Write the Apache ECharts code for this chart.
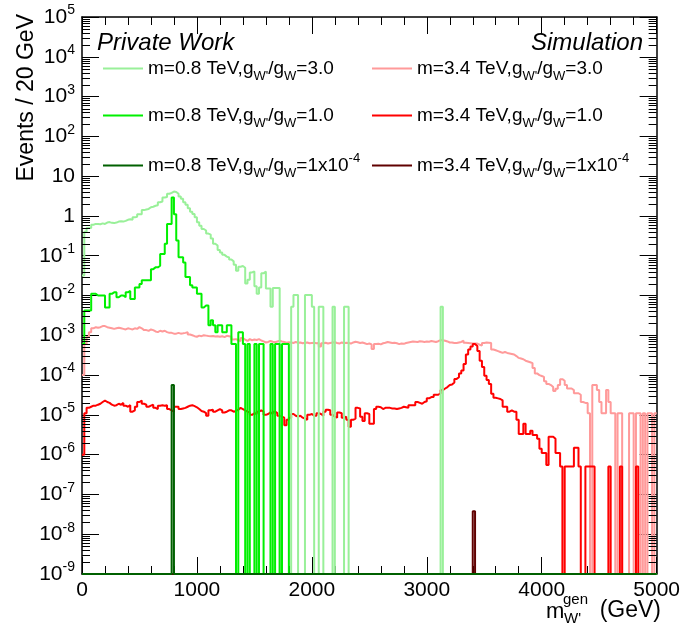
<!DOCTYPE html>
<html><head><meta charset="utf-8">
<script src="https://cdn.jsdelivr.net/npm/echarts@6/dist/echarts.min.js"></script>
<style>html,body{margin:0;padding:0;background:#fff}#c{width:683px;height:625px}</style>
</head><body><div id="c"></div>
<script>
// ---------------- data ----------------
const BIN_WIDTH = 20;          // GeV per bin
const X_MIN = 0, X_MAX = 5000;
const Y_MIN = 1e-9, Y_MAX = 1e5;
const xTickLabels = ['0', '1000', '2000', '3000', '4000', '5000'];

const seriesNames = [
  "m=0.8 TeV,gW'/gW=3.0",
  "m=0.8 TeV,gW'/gW=1.0",
  "m=0.8 TeV,gW'/gW=1x10-4",
  "m=3.4 TeV,gW'/gW=3.0",
  "m=3.4 TeV,gW'/gW=1.0",
  "m=3.4 TeV,gW'/gW=1x10-4"
];
const legendRich = [
  "m=0.8 TeV,g{sub|W'}/g{sub|W}=3.0",
  "m=0.8 TeV,g{sub|W'}/g{sub|W}=1.0",
  "m=0.8 TeV,g{sub|W'}/g{sub|W}=1x10{sup|-4}",
  "m=3.4 TeV,g{sub|W'}/g{sub|W}=3.0",
  "m=3.4 TeV,g{sub|W'}/g{sub|W}=1.0",
  "m=3.4 TeV,g{sub|W'}/g{sub|W}=1x10{sup|-4}"
];

// m=0.8 TeV, g=3.0 (light green), 250 bins of 20 GeV
const lightGreen = [
  0.032,0.4,0.5,0.5,0.6,0.63,0.63,0.62,0.65,0.63,
  0.68,0.7,0.67,0.66,0.68,0.72,0.73,0.72,0.75,0.8,
  0.82,0.8,0.92,0.95,1.1,1.1,1.4,1.45,1.5,1.65,
  1.7,1.8,1.85,2.2,2.3,2.9,3.0,3.6,3.8,4.1,
  4.0,3.6,3.1,2.7,2.2,1.9,1.56,1.28,1.12,0.93,
  0.69,0.57,0.47,0.43,0.36,0.34,0.27,0.2,0.18,0.14,
  0.12,0.105,0.095,0.09,0.08,0.072,0.059,0.042,0.053,0.055,
  0.05,0.02,0.025,0.038,0.04,0.017,0.011,0.016,0.036,0.04,
  0.015,0.015,0.0052,0.0155,0.0155,0.0155,0,0,0,0,
  0,0.0052,0.0103,0.0103,0,0,0,0.0103,0.0103,0.0103,
  0.0052,0,0,0.0052,0.0052,0,0,0,0,0.0052,
  0,0,0,0,0.0052,0.0052,0,0,0,0,
  0,0,0,0,0,0,0,0,0,0,
  0,0,0,0,0,0,0,0,0,0,
  0,0,0,0,0,0,0,0,0,0,
  0,0,0,0,0,0,0.0052,0,0,0,
  0,0,0,0,0,0,0,0,0,0,
  0,0,0,0,0,0,0,0,0,0,
  0,0,0,0,0,0,0,0,0,0,
  0,0,0,0,0,0,0,0,0,0,
  0,0,0,0,0,0,0,0,0,0,
  0,0,0,0,0,0,0,0,0,0,
  0,0,0,0,0,0,0,0,0,0,
  0,0,0,0,0,0,0,0,0,0,
  0,0,0,0,0,0,0,0,0,0
];

// m=0.8 TeV, g=1.0 (green)
const green = [
  6e-4,0.0042,0.0042,0.0042,0.011,0.011,0.01,0.01,0.01,0.01,
  0.005,0.005,0.011,0.012,0.012,0.009,0.01,0.01,0.009,0.012,
  0.013,0.0082,0.0082,0.016,0.016,0.0195,0.024,0.024,0.024,0.024,
  0.046,0.051,0.051,0.056,0.11,0.11,0.2,0.63,0.63,2.9,
  1.1,0.24,0.092,0.092,0.068,0.029,0.029,0.018,0.016,0.016,
  0.011,0.011,0.005,0.0056,0.0056,0.0018,0.0024,0.0018,0.0012,0.0018,
  0.0018,0.0012,0.0012,0.0018,0.0018,0.0006,0.0006,0,0.0012,0.0012,
  0.0006,0,0.0006,0,0,0.0006,0,0.0006,0.0006,0,
  0,0,0.0006,0,0.0006,0.0006,0,0.0006,0.0006,0.0006,
  0,0,0,0,0,0,0,0,0,0,
  0,0,0,0,0,0,0,0,0,0,
  0,0,0,0,0,0,0,0,0,0,
  0,0,0,0,0,0,0,0,0,0,
  0,0,0,0,0,0,0,0,0,0,
  0,0,0,0,0,0,0,0,0,0,
  0,0,0,0,0,0,0,0,0,0,
  0,0,0,0,0,0,0,0,0,0,
  0,0,0,0,0,0,0,0,0,0,
  0,0,0,0,0,0,0,0,0,0,
  0,0,0,0,0,0,0,0,0,0,
  0,0,0,0,0,0,0,0,0,0,
  0,0,0,0,0,0,0,0,0,0,
  0,0,0,0,0,0,0,0,0,0,
  0,0,0,0,0,0,0,0,0,0,
  0,0,0,0,0,0,0,0,0,0
];

// m=0.8 TeV, g=1e-4 (dark green): one filled bin (780-800 GeV)
const darkGreenBins = [39];
const darkGreenVals = [5.6e-5];

// m=3.4 TeV, g=3.0 (pink)
const pink = [
  1e-4,6e-4,9e-4,1.2e-3,1.5e-3,1.6e-3,1.55e-3,1.6e-3,1.7e-3,1.7e-3,
  1.6e-3,1.55e-3,1.5e-3,1.45e-3,1.5e-3,1.55e-3,1.5e-3,1.45e-3,1.4e-3,1.5e-3,
  1.45e-3,1.4e-3,1.5e-3,1.45e-3,1.6e-3,1.5e-3,1.35e-3,1.35e-3,1.3e-3,1.4e-3,
  1.35e-3,1.25e-3,1.2e-3,1.3e-3,1.25e-3,1.3e-3,1.2e-3,1.15e-3,1.15e-3,1.1e-3,
  1.1e-3,1.15e-3,1.1e-3,1.12e-3,1.15e-3,1.2e-3,1.05e-3,1.0e-3,0.95e-3,0.92e-3,
  0.98e-3,0.95e-3,1.0e-3,0.98e-3,0.96e-3,0.95e-3,0.96e-3,0.93e-3,0.95e-3,0.92e-3,
  0.95e-3,0.9e-3,0.97e-3,0.95e-3,0.92e-3,0.78e-3,0.8e-3,0.75e-3,0.72e-3,0.85e-3,
  0.78e-3,0.72e-3,0.8e-3,0.75e-3,0.78e-3,0.76e-3,0.8e-3,0.74e-3,7e-4,6.6e-4,
  6.8e-4,7.2e-4,6.9e-4,6.7e-4,7e-4,7.3e-4,7e-4,6.8e-4,6.5e-4,6.7e-4,
  6.6e-4,6.4e-4,6.8e-4,6.5e-4,6.6e-4,6.3e-4,6.5e-4,6.6e-4,6.3e-4,6.4e-4,
  6.5e-4,6.3e-4,6.4e-4,5.2e-4,6.3e-4,6.5e-4,6.2e-4,6.4e-4,6.6e-4,6.7e-4,
  6.4e-4,6.2e-4,6.6e-4,6.3e-4,6.5e-4,6.4e-4,6.2e-4,6.6e-4,6.9e-4,6.7e-4,
  6.4e-4,6.6e-4,6.3e-4,6.0e-4,6.2e-4,5.9e-4,4.5e-4,6.0e-4,6.1e-4,5.9e-4,
  6.3e-4,6.5e-4,6.8e-4,6.6e-4,6.4e-4,6.5e-4,6.3e-4,6.0e-4,6.2e-4,6.1e-4,
  6.4e-4,6.6e-4,6.8e-4,7.0e-4,6.9e-4,6.8e-4,7.1e-4,7.0e-4,6.8e-4,7.0e-4,
  6.9e-4,7.2e-4,7.0e-4,6.8e-4,7.1e-4,7.6e-4,7.5e-4,7.3e-4,7.0e-4,6.6e-4,
  6.6e-4,6.4e-4,6.4e-4,6.6e-4,6.8e-4,7.3e-4,6.5e-4,6.4e-4,6.3e-4,6.2e-4,
  6.2e-4,6.2e-4,5.8e-4,5.5e-4,6.4e-4,6.6e-4,6.5e-4,6.4e-4,4.4e-4,4.2e-4,
  4.0e-4,3.8e-4,3.6e-4,3.8e-4,3.6e-4,3.5e-4,3.4e-4,3.3e-4,3.0e-4,2.7e-4,
  2.6e-4,2.5e-4,2.3e-4,2.2e-4,2.1e-4,2.0e-4,1.5e-4,1.1e-4,1.0e-4,9.5e-5,
  9.0e-5,7.0e-5,6.0e-5,5.6e-5,5.0e-5,4.0e-5,4.5e-5,5.6e-5,7.9e-5,7.2e-5,
  5.6e-5,4.6e-5,4.6e-5,4.2e-5,3.5e-5,3.5e-5,3.2e-5,2.1e-5,2.0e-5,2.0e-5,
  1.1e-5,0,5.6e-5,5.6e-5,4.2e-5,2.1e-5,1.1e-5,1.1e-5,4.2e-5,2.1e-5,
  1.1e-5,1.1e-5,0,1.1e-5,1.1e-5,0,0,0,1.1e-5,1.1e-5,
  0,1.1e-5,1.1e-5,0,1.1e-5,0,1.1e-5,1.1e-5,0,1.1e-5
];

// m=3.4 TeV, g=1.0 (red)
const red = [
  1e-6,1.1e-5,1.5e-5,1.6e-5,1.7e-5,1.7e-5,1.8e-5,1.9e-5,2.1e-5,2.3e-5,
  2.1e-5,2.0e-5,1.8e-5,1.7e-5,1.75e-5,1.9e-5,1.8e-5,2.0e-5,1.7e-5,1.6e-5,
  1.75e-5,1.2e-5,1.3e-5,1.6e-5,2.1e-5,2.3e-5,1.9e-5,1.8e-5,1.6e-5,1.7e-5,
  1.8e-5,1.5e-5,1.4e-5,1.7e-5,1.75e-5,1.7e-5,1.75e-5,1.4e-5,1.3e-5,1.2e-5,
  1.6e-5,1.6e-5,1.4e-5,1.45e-5,1.5e-5,1.6e-5,1.7e-5,1.75e-5,1.65e-5,1.55e-5,
  1.4e-5,1.25e-5,1.2e-5,1.1e-5,9.5e-6,1.3e-5,1.35e-5,1.2e-5,1.3e-5,1.4e-5,
  1.3e-5,1.15e-5,1.2e-5,1.3e-5,1.3e-5,1.2e-5,1.25e-5,1.35e-5,1.5e-5,1.4e-5,
  1.3e-5,1.2e-5,1.15e-5,1.0e-5,1.1e-5,1.05e-5,1.2e-5,1.3e-5,1.2e-5,1.0e-5,
  1.05e-5,1.15e-5,1.05e-5,1.2e-5,1.1e-5,9.5e-6,9e-6,8.5e-6,5.5e-6,7.5e-6,
  8.5e-6,1.05e-5,9.5e-6,9e-6,9.5e-6,8.5e-6,8e-6,7.5e-6,1.0e-5,1.05e-5,
  9.5e-6,9.5e-6,1.1e-5,1.05e-5,9.5e-6,1.2e-5,1.35e-5,1.3e-5,1.0e-5,9e-6,
  8.5e-6,1.15e-5,1.1e-5,8.5e-6,9e-6,7.5e-6,5e-6,7.5e-6,8e-6,1.5e-5,
  1.45e-5,9e-6,7e-6,1.1e-5,1.05e-5,6e-6,6e-6,1.4e-5,1.6e-5,1.55e-5,
  1.4e-5,1.5e-5,1.5e-5,1.5e-5,1.45e-5,1.45e-5,1.4e-5,1.45e-5,1.5e-5,1.6e-5,
  1.55e-5,1.5e-5,1.75e-5,1.75e-5,1.75e-5,2.1e-5,2.0e-5,1.9e-5,2.1e-5,2.2e-5,
  2.6e-5,2.8e-5,2.8e-5,3.2e-5,3.2e-5,3.5e-5,4.2e-5,4.6e-5,5.0e-5,5.6e-5,
  5.8e-5,6.5e-5,8.0e-5,8.8e-5,1.1e-4,1.3e-4,1.9e-4,3.3e-4,4.4e-4,5.2e-4,
  6.0e-4,5.4e-4,4.0e-4,2.3e-4,1.6e-4,9.6e-5,7.5e-5,6.0e-5,3.4e-5,2.7e-5,
  2.6e-5,2.5e-5,2.3e-5,1.6e-5,1.6e-5,1.2e-5,1.3e-5,1.2e-5,1.2e-5,7.5e-6,
  3.3e-6,3.3e-6,6e-6,3.3e-6,3.3e-6,4e-6,3.1e-6,3.1e-6,2.5e-6,1.4e-6,
  1.1e-6,1.1e-6,5.5e-7,2.8e-6,2.8e-6,2.5e-6,1.1e-6,1.1e-6,5e-7,0,
  5e-7,5e-7,5e-7,5e-7,1.5e-6,1.5e-6,5e-7,0,0,5e-7,
  5e-7,5e-7,5e-7,0,0,0,0,0,0,5e-7,
  0,0,0,0,5e-7,0,0,0,0,0,
  0,5e-7,0,0,0,0,0,0,0,0
];

// m=3.4 TeV, g=1e-4 (dark red): one filled bin (3400-3420 GeV)
const darkRedBins = [170];
const darkRedVals = [3.8e-8];

// ---------------- helpers ----------------
const N_BINS = (X_MAX - X_MIN) / BIN_WIDTH;
function sparseToBins(bins, vals) {
  const out = new Array(N_BINS).fill(0);
  bins.forEach((b, k) => { out[b] = vals[k]; });
  return out;
}
const darkGreen = sparseToBins(darkGreenBins, darkGreenVals);
const darkRed = sparseToBins(darkRedBins, darkRedVals);

// empty bins are drawn on the lower frame edge, as ROOT does on a log axis
function toStep(vals) {
  const d = vals.map((v, i) => [X_MIN + i * BIN_WIDTH, v > 0 ? v : Y_MIN]);
  const last = vals[vals.length - 1];
  d.push([X_MAX, last > 0 ? last : Y_MIN]);
  return d;
}

const FONT = "'Liberation Sans', Arial, Helvetica, sans-serif";
const COLORS = ['#99f099', '#00f000', '#006000', '#ff9a9a', '#ff0000', '#600000'];
const VALUES = [lightGreen, green, darkGreen, pink, red, darkRed];
const DRAW_ORDER = [3, 4, 5, 0, 1, 2];

const minorTickVals = [];
for (let e = -9; e < 5; e++) for (let k = 2; k <= 9; k++) minorTickVals.push([X_MIN, k * Math.pow(10, e)]);

const chart = echarts.init(document.getElementById('c'), null, { renderer: 'canvas' });

const lineSeries = DRAW_ORDER.map(i => ({
  name: seriesNames[i],
  type: 'line',
  step: 'end',
  data: toStep(VALUES[i]),
  symbol: 'none',
  showSymbol: false,
  animation: false,
  lineStyle: { color: COLORS[i], width: 2 },
  itemStyle: { color: COLORS[i] },
  emphasis: { disabled: true },
  z: 3
}));

const MINOR_LEN = 8;
const minorSeries = {
  type: 'custom',
  silent: true,
  animation: false,
  z: 10,
  data: minorTickVals,
  encode: { x: 0, y: 1 },
  renderItem: (params, api) => {
    const v = api.value(1);
    const pL = api.coord([X_MIN, v]);
    const pR = api.coord([X_MAX, v]);
    const y = Math.round(pL[1]) + 0.5;
    return {
      type: 'group',
      children: [
        { type: 'line', shape: { x1: pL[0], y1: y, x2: pL[0] + MINOR_LEN, y2: y }, style: { stroke: '#000', lineWidth: 1 } },
        { type: 'line', shape: { x1: pR[0], y1: y, x2: pR[0] - MINOR_LEN, y2: y }, style: { stroke: '#000', lineWidth: 1 } }
      ]
    };
  }
};

const legendCols = [103, 372];
const legendRows = [59, 106, 152];
const legends = seriesNames.map((nm, i) => ({
  data: [nm],
  left: legendCols[Math.floor(i / 3)],
  top: legendRows[i % 3],
  padding: 0,
  icon: 'rect',
  itemWidth: 40,
  itemHeight: 2,
  selectedMode: false,
  formatter: () => legendRich[i],
  textStyle: {
    fontFamily: FONT, fontSize: 19, color: '#000',
    rich: {
      sub: { fontFamily: FONT, fontSize: 13, color: '#000', padding: [16, 0, 0, 0] },
      sup: { fontFamily: FONT, fontSize: 13, color: '#000', padding: [0, 0, 14, 0] }
    }
  }
}));

function yLabel(v) {
  const e = Math.round(Math.log10(v));
  if (e === 0) return '1';
  if (e === 1) return '10';
  return '10{sup|' + e + '}';
}

const axisBlack = { color: '#000', width: 1.5 };

chart.setOption({
  animation: false,
  backgroundColor: '#fff',
  grid: { left: 82, right: 25, top: 17, bottom: 51, containLabel: false },
  xAxis: [
    {
      type: 'value', min: X_MIN, max: X_MAX, interval: 1000, position: 'bottom',
      axisLine: { show: true, onZero: false, lineStyle: axisBlack },
      axisTick: { show: true, inside: true, length: 17, lineStyle: { color: '#000' } },
      minorTick: { show: true, splitNumber: 5, length: 8, lineStyle: { color: '#000' } },
      splitLine: { show: false },
      axisLabel: {
        show: true, margin: 6, fontSize: 21, fontFamily: FONT, color: '#000',
        showMinLabel: true, showMaxLabel: true,
        formatter: (v) => xTickLabels[Math.round(v / 1000)]
      }
    },
    {
      type: 'value', min: X_MIN, max: X_MAX, interval: 1000, position: 'top',
      axisLine: { show: true, onZero: false, lineStyle: axisBlack },
      axisTick: { show: true, inside: true, length: 17, lineStyle: { color: '#000' } },
      minorTick: { show: true, splitNumber: 5, length: 8, lineStyle: { color: '#000' } },
      splitLine: { show: false },
      axisLabel: { show: false }
    }
  ],
  yAxis: [
    {
      type: 'log', logBase: 10, min: Y_MIN, max: Y_MAX, interval: 1, splitNumber: 14, position: 'left',
      axisLine: { show: true, onZero: false, lineStyle: axisBlack },
      axisTick: { show: true, inside: true, length: 17, lineStyle: { color: '#000' } },
      splitLine: { show: false },
      axisLabel: {
        show: true, margin: 7, fontSize: 21, fontFamily: FONT, color: '#000',
        showMinLabel: true, showMaxLabel: true,
        formatter: yLabel,
        rich: { sup: { fontSize: 14, fontFamily: FONT, color: '#000', padding: [0, 0, 13, 0] } }
      }
    },
    {
      type: 'log', logBase: 10, min: Y_MIN, max: Y_MAX, interval: 1, splitNumber: 14, position: 'right',
      axisLine: { show: true, onZero: false, lineStyle: axisBlack },
      axisTick: { show: true, inside: true, length: 17, lineStyle: { color: '#000' } },
      splitLine: { show: false },
      axisLabel: { show: false }
    }
  ],
  legend: legends,
  series: lineSeries.concat([minorSeries]),
  graphic: [
    { type: 'text', x: 27, y: 14, rotation: Math.PI / 2,
      style: { text: 'Events / 20 GeV', fontFamily: FONT, fontSize: 23, fill: '#000', align: 'right', verticalAlign: 'middle' } },
    { type: 'text', x: 97, y: 43,
      style: { text: 'Private Work', fontFamily: FONT, fontSize: 24, fontStyle: 'italic', fill: '#000', align: 'left', verticalAlign: 'middle' } },
    { type: 'text', x: 643, y: 43,
      style: { text: 'Simulation', fontFamily: FONT, fontSize: 24, fontStyle: 'italic', fill: '#000', align: 'right', verticalAlign: 'middle' } },
    { type: 'text', x: 546, y: 612,
      style: { text: 'm', fontFamily: FONT, fontSize: 22, fill: '#000', align: 'left', verticalAlign: 'middle' } },
    { type: 'text', x: 563, y: 600,
      style: { text: 'gen', fontFamily: FONT, fontSize: 15, fill: '#000', align: 'left', verticalAlign: 'middle' } },
    { type: 'text', x: 564, y: 619,
      style: { text: "W'", fontFamily: FONT, fontSize: 15, fill: '#000', align: 'left', verticalAlign: 'middle' } },
    { type: 'text', x: 661, y: 611,
      style: { text: '(GeV)', fontFamily: FONT, fontSize: 23, fill: '#000', align: 'right', verticalAlign: 'middle' } }
  ]
});
</script>
</body></html>
